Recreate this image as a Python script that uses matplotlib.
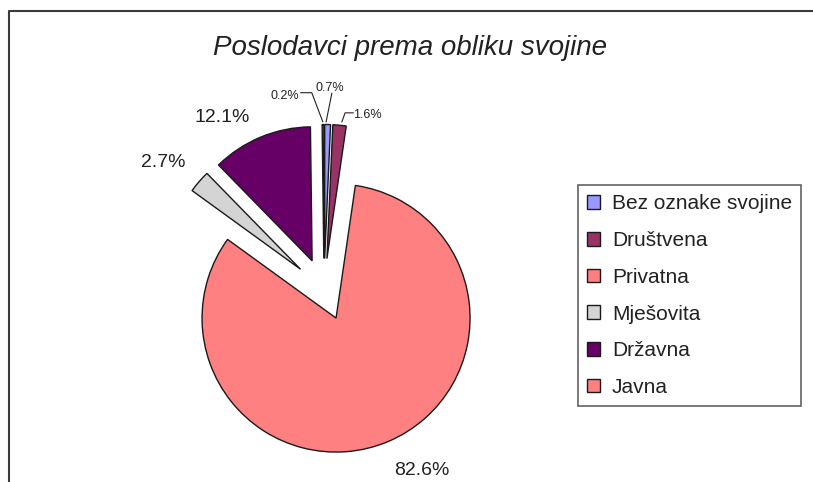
import numpy as np
import matplotlib.pyplot as plt
from matplotlib.patches import Patch

kategorije = ['Bez oznake svojine', 'Društvena', 'Privatna', 'Mješovita', 'Državna', 'Javna']
udjeli = [0.7, 1.6, 82.6, 2.7, 12.1, 0.2]
boje = ['#9999FF', '#993366', '#FF8080', '#D4D4D4', '#660066', '#FF8080']
naslov = 'Poslodavci prema obliku svojine'

plt.rcParams['font.family'] = ['Liberation Sans', 'DejaVu Sans']

W, H = 813, 482
fig = plt.figure(figsize=(W / 100, H / 100), dpi=100)
ax = fig.add_axes([0, 0, 1, 1])

R = 134  # radijus u pikselima
wedges, _ = ax.pie(udjeli, colors=boje, startangle=90, counterclock=False,
                   radius=R, center=(324, H - 289.5), explode=[31] * len(udjeli),
                   wedgeprops=dict(edgecolor='#1a1a1a', linewidth=1.0))
ax.set_xlim(0, W)
ax.set_ylim(0, H)
ax.set_aspect('auto')
ax.axis('off')

# pomak natpisa od vrha isjecka (px)
pomak = [(2.5, 37.5), (27.6, 11), (33.6, -27.7), (-36, 20.6), (-39, 21), (-38, 29.5)]
# vodilice za male isjecke
vodilice = {0: [(4.2, 31.2), (-1.5, 2.8)],
            1: [(13.6, 12.4), (5.6, 12.4), (2.3, 3.4)],
            5: [(-22.2, 31.8), (-11.2, 31.8), (-0.2, 2.8)]}

for i, (w, v) in enumerate(zip(wedges, udjeli)):
    kut = np.deg2rad((w.theta1 + w.theta2) / 2)
    vx = w.center[0] + w.r * np.cos(kut)
    vy = w.center[1] + w.r * np.sin(kut)
    mali = v < 2
    ax.text(vx + pomak[i][0], vy + pomak[i][1] - 1, f'{v:.1f}%',
            ha='center', va='center', fontsize=9 if mali else 14, color='#222222')
    if i in vodilice:
        pts = np.array(vodilice[i])
        ax.plot(vx + pts[:, 0], vy + pts[:, 1], color='#222222', lw=0.8)

ax.text(410, H - 48, naslov, ha='center', va='center', fontsize=20,
        style='italic', color='#222222')

# okvir grafikona (lijevo i gore)
ax.plot([9, 9, W], [0, H - 11, H - 11], color='#3a3a3a', lw=1.5, clip_on=False)

rucke = [Patch(facecolor=c, edgecolor='#1a1a1a', linewidth=1.0, label=k)
         for k, c in zip(kategorije, boje)]
leg = ax.legend(handles=rucke, loc='upper left', bbox_to_anchor=(578, H - 185),
                bbox_transform=ax.transData, fontsize=15, frameon=True,
                fancybox=False, edgecolor='#3a3a3a', borderpad=0.45,
                labelspacing=0.85, handlelength=0.62, handleheight=0.62,
                handletextpad=0.55, borderaxespad=0)
leg.get_frame().set_linewidth(1.2)
for t in leg.get_texts():
    t.set_color('#222222')

fig.savefig('out.png', dpi=100)
